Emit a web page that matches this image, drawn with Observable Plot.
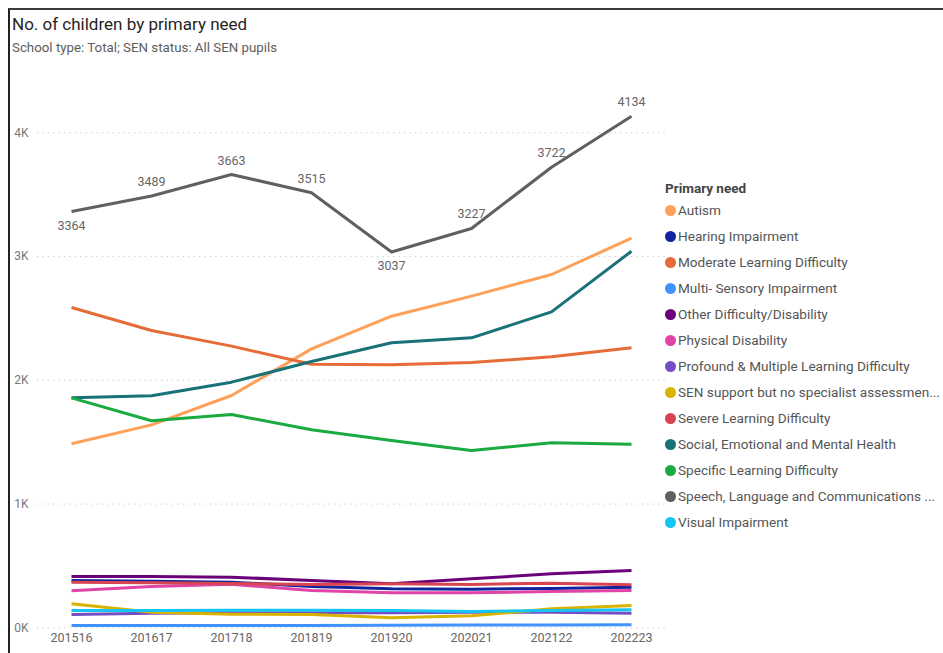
<!DOCTYPE html>
<html>
<head>
<meta charset="utf-8">
<script src="https://cdn.jsdelivr.net/npm/d3@7"></script>
<script src="https://cdn.jsdelivr.net/npm/@observablehq/plot@0.6"></script>
<style>
  html, body { margin: 0; padding: 0; background: #fff; }
  body { width: 943px; height: 653px; position: relative; overflow: hidden; font-family: Roboto, "Noto Sans", sans-serif; }
  #frame { position: absolute; left: 8px; top: 8px; right: -4px; bottom: -4px; border-top: 2px solid #3c3c3c; border-left: 2px solid #222; }
  #title { position: absolute; left: 12px; top: 14px; font-size: 17px; color: #252423; white-space: nowrap; }
  #subtitle { position: absolute; left: 12px; top: 40px; font-size: 13.3px; color: #605E5C; white-space: nowrap; }
  #chart { position: absolute; left: 0; top: 70px; }
  #legend { position: absolute; left: 665px; top: 180px; width: 276px; }
  #legend .ltitle { font-size: 13.5px; font-weight: bold; color: #444; line-height: 16px; height: 17px; }
  #legend .item { height: 26px; line-height: 26px; font-size: 13.6px; color: #555; white-space: nowrap; }
  #legend .dot { display: inline-block; width: 11px; height: 11px; border-radius: 50%; vertical-align: -1px; margin-right: 2px; }
</style>
</head>
<body>
<div id="frame"></div>
<div id="title">No. of children by primary need</div>
<div id="subtitle">School type: Total; SEN status: All SEN pupils</div>
<div id="chart"></div>
<div id="legend"></div>
<script>
const years = ["201516", "201617", "201718", "201819", "201920", "202021", "202122", "202223"];
const needs = [
  "Autism",
  "Hearing Impairment",
  "Moderate Learning Difficulty",
  "Multi- Sensory Impairment",
  "Other Difficulty/Disability",
  "Physical Disability",
  "Profound & Multiple Learning Difficulty",
  "SEN support but no specialist assessmen...",
  "Severe Learning Difficulty",
  "Social, Emotional and Mental Health",
  "Specific Learning Difficulty",
  "Speech, Language and Communications ...",
  "Visual Impairment"
];
const colors = ["#FFA058", "#12239E", "#E66C37", "#4092FF", "#6B007B", "#E044A7", "#744EC2", "#D9B300", "#D64550", "#197278", "#1AAB40", "#606060", "#15C6F4"];

const autism    = [1487, 1640, 1877, 2254, 2518, 2680, 2855, 3148];
const hearing   = [382, 377, 369, 334, 315, 312, 318, 328];
const moderate  = [2588, 2402, 2276, 2130, 2125, 2144, 2190, 2263];
const multiSens = [18, 19, 19, 19, 20, 22, 23, 24];
const other     = [415, 415, 409, 382, 355, 396, 436, 463];
const physical  = [299, 334, 352, 301, 283, 283, 293, 301];
const profound  = [107, 118, 121, 121, 121, 126, 126, 118];
const senSupport= [194, 126, 110, 107, 81, 97, 153, 180];
const severe    = [369, 365, 358, 350, 355, 350, 361, 347];
const semh      = [1858, 1875, 1985, 2152, 2303, 2343, 2553, 3043];
const specific  = [1858, 1673, 1724, 1600, 1514, 1433, 1495, 1484];
const speech    = [3364, 3489, 3663, 3515, 3037, 3227, 3722, 4134];
const visual    = [140, 140, 142, 142, 140, 132, 140, 145];

const seriesValues = [autism, hearing, moderate, multiSens, other, physical, profound, senSupport, severe, semh, specific, speech, visual];
const yTicks = [0, 1000, 2000, 3000, 4000];

const rows = [];
needs.forEach((n, i) => {
  seriesValues[i].forEach((v, j) => rows.push({need: n, year: years[j], value: v}));
});
const speechRows = speech.map((v, j) => {
  const nb = [speech[j - 1], speech[j + 1]].filter(d => d !== undefined);
  return {year: years[j], value: v, below: v <= Math.min(...nb)};
});

const plot = Plot.plot({
  width: 670,
  height: 583,
  marginTop: 10,
  marginBottom: 25,
  marginLeft: 37,
  marginRight: 5,
  style: {fontFamily: "Roboto, 'Noto Sans', sans-serif", fontSize: "12px", color: "#666", background: "transparent"},
  x: {type: "point", domain: years, range: [69.5, 632.5], padding: 0},
  y: {domain: [0, 4000], range: [557.3, 62.3]},
  color: {domain: needs, range: colors},
  marks: [
    Plot.ruleY(yTicks, {stroke: "#c8c8c8", strokeWidth: 1, strokeDasharray: "1.2,4.2"}),
    Plot.axisY(yTicks, {tickFormat: d => (d / 1000) + "K", tickSize: 0, tickPadding: 9, fill: "#777", fontSize: 12, label: null}),
    Plot.axisX({tickSize: 0, tickPadding: 5, fill: "#666", fontSize: 12.5, label: null}),
    Plot.line(rows, {x: "year", y: "value", z: "need", stroke: "need", strokeWidth: 3, strokeLinejoin: "round", strokeLinecap: "butt"}),
    Plot.text(speechRows, {x: "year", y: "value", text: d => String(d.value), fill: "#666", fontSize: 12.5,
      filter: d => !d.below, dy: -14}),
    Plot.text(speechRows, {x: "year", y: "value", text: d => String(d.value), fill: "#666", fontSize: 12.5,
      filter: d => d.below, dy: 14})
  ]
});
document.getElementById("chart").appendChild(plot);

const legend = document.getElementById("legend");
const lt = document.createElement("div");
lt.className = "ltitle";
lt.textContent = "Primary need";
legend.appendChild(lt);
needs.forEach((n, i) => {
  const it = document.createElement("div");
  it.className = "item";
  const dot = document.createElement("span");
  dot.className = "dot";
  dot.style.background = colors[i];
  it.appendChild(dot);
  it.appendChild(document.createTextNode(n));
  legend.appendChild(it);
});
</script>
</body>
</html>
